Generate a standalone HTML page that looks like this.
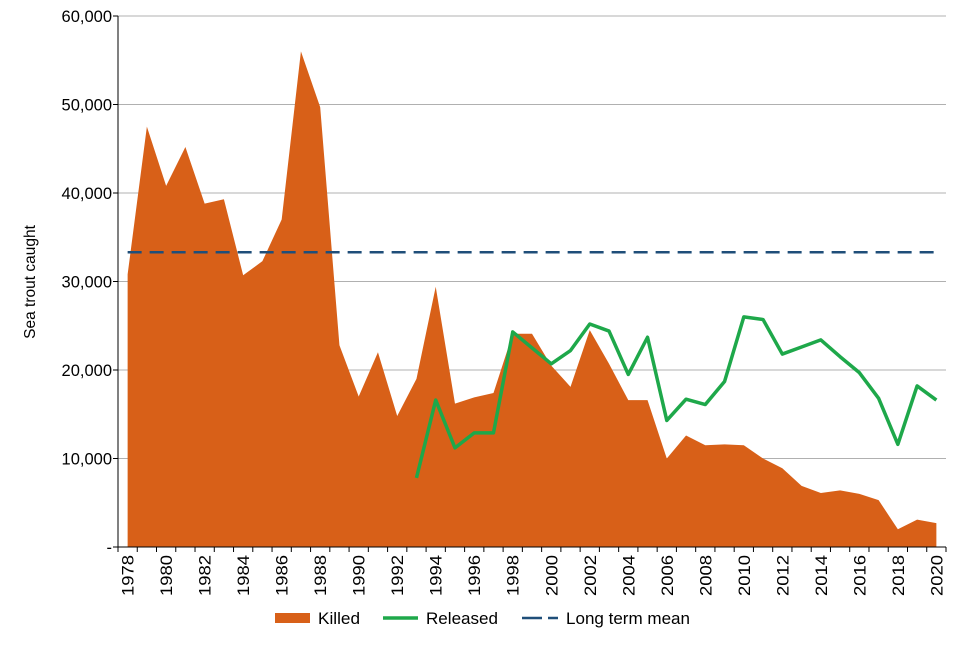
<!DOCTYPE html>
<html><head><meta charset="utf-8"><style>
body{margin:0;background:#fff;font-family:"Liberation Sans",sans-serif}
svg text{font-family:"Liberation Sans",sans-serif;fill:#000}
</style></head><body>
<svg id="c" width="960" height="640"></svg>
<script>
const years=[];for(let y=1978;y<=2020;y++)years.push(y);
const killed=[30800,47500,40800,45200,38800,39300,30700,32300,37000,56000,49700,22800,17000,22000,14800,19000,29400,16200,16900,17400,24100,24100,20500,18100,24500,20700,16600,16600,10000,12600,11500,11600,11500,10000,8900,6900,6100,6400,6000,5300,2000,3100,2700];
const releasedYears=[1993,1994,1995,1996,1997,1998,1999,2000,2001,2002,2003,2004,2005,2006,2007,2008,2009,2010,2011,2012,2013,2014,2015,2016,2017,2018,2019,2020];
const released=[7800,16600,11200,12900,12900,24300,22500,20700,22200,25200,24400,19500,23700,14300,16700,16100,18700,26000,25700,21800,22600,23400,21500,19700,16800,11600,18200,16600];
const longTermMean=33300;
const yTicks=[0,10000,20000,30000,40000,50000,60000];
const yTickLabels=["-","10,000","20,000","30,000","40,000","50,000","60,000"];
const L=118,R=946,T=16,B=547,NS="http://www.w3.org/2000/svg";
const bw=(R-L)/years.length;
const x=y=>L+(y-1978+0.5)*bw;
const yv=v=>B-(v/60000)*(B-T);
const svg=document.getElementById('c');
function mk(t,a,p){const e=document.createElementNS(NS,t);for(const k in a)e.setAttribute(k,a[k]);(p||svg).appendChild(e);return e;}
yTicks.forEach((v,i)=>{
 if(v>0){const g=mk('line',{x1:L,x2:R,y1:yv(v),y2:yv(v),stroke:'#b0b0b0','stroke-width':1});
 
 }
 const tk=mk('line',{x1:L-5,x2:L,y1:yv(v),y2:yv(v),stroke:'#000'});
 
 
 const t=mk('text',{x:L-6,y:yv(v)+6,'text-anchor':'end','font-size':16.5});t.textContent=yTickLabels[i];
 
 
});
let d='M'+x(1978)+','+B;
years.forEach((y,i)=>{d+=' L'+x(y)+','+yv(killed[i]);});
d+=' L'+x(2020)+','+B+' Z';
const area=mk('path',{d:d,fill:'#d86018'});


const ml=mk('line',{x1:x(1978),x2:x(2020),y1:yv(longTermMean),y2:yv(longTermMean),stroke:'#1f4e79','stroke-width':2.5,'stroke-dasharray':'14,8'});


const rl=mk('polyline',{points:releasedYears.map((y,i)=>x(y)+','+yv(released[i])).join(' '),fill:'none',stroke:'#1ea84a','stroke-width':3.5,'stroke-linejoin':'round'});


const ax=mk('line',{x1:L,x2:L,y1:T,y2:B,stroke:'#000'});


const xa=mk('line',{x1:L,x2:R,y1:B,y2:B,stroke:'#000'});


for(let i=0;i<=years.length;i++){const tk=mk('line',{x1:L+i*bw,x2:L+i*bw,y1:B,y2:B+5,stroke:'#000'});
 
 }
years.forEach(y=>{if(y%2)return;const t=mk('text',{transform:`translate(${x(y)+6},${B+8}) rotate(-90)`,'text-anchor':'end','font-size':17,textLength:41,lengthAdjust:'spacingAndGlyphs'});t.textContent=y;
 
 });
const yt=mk('text',{transform:'translate(35,282) rotate(-90)','text-anchor':'middle','font-size':15.5});yt.textContent='Sea trout caught';


const lg=mk('g',{});


const r1=mk('rect',{x:275,y:613,width:35,height:10,fill:'#d86018'},lg);


const t1=mk('text',{x:318,y:624,'font-size':16.5,textLength:42,lengthAdjust:'spacingAndGlyphs'},lg);t1.textContent='Killed';


const l2=mk('line',{x1:383,x2:418,y1:618,y2:618,stroke:'#1ea84a','stroke-width':3.5},lg);


const t2=mk('text',{x:426,y:624,'font-size':16.5,textLength:72,lengthAdjust:'spacingAndGlyphs'},lg);t2.textContent='Released';


const l3=mk('line',{x1:522,x2:558,y1:618,y2:618,stroke:'#1f4e79','stroke-width':2.5,'stroke-dasharray':'20,6'},lg);


const t3=mk('text',{x:566,y:624,'font-size':16.5,textLength:124,lengthAdjust:'spacingAndGlyphs'},lg);t3.textContent='Long term mean';


</script>
</body></html>
